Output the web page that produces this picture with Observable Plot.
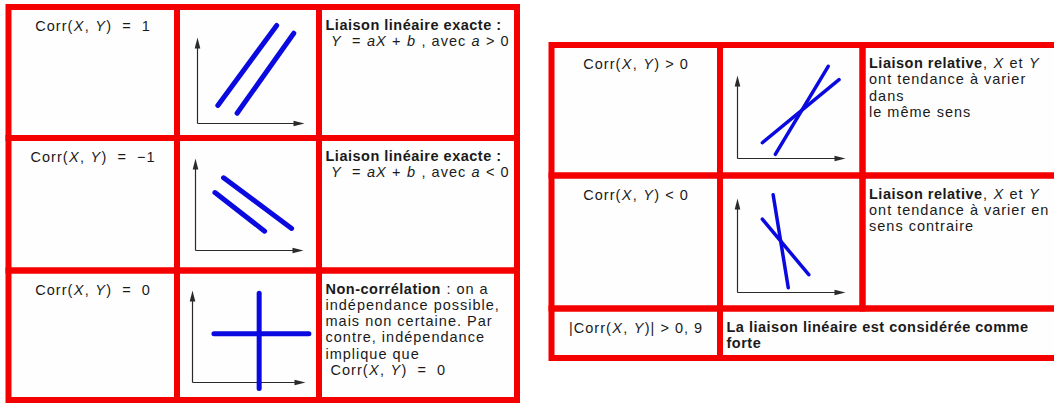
<!DOCTYPE html>
<html>
<head>
<meta charset="utf-8">
<script src="https://cdn.jsdelivr.net/npm/d3@7"></script>
<script src="https://cdn.jsdelivr.net/npm/@observablehq/plot@0.6"></script>
<style>
  html, body { margin: 0; padding: 0; background: #fff; }
  svg text { white-space: pre; letter-spacing: 1px; }
  svg g[font-weight="bold"] text { letter-spacing: 0.5px; }
</style>
</head>
<body>
<div id="chart"></div>
<script>
// ---------------- data (text content) ----------------
const leftLabels = ["Corr(_X_, _Y_)  =  1", "Corr(_X_, _Y_)  =  −1", "Corr(_X_, _Y_)  =  0"];
const leftDescriptions = [
  ["**Liaison linéaire exacte :**", " _Y_  = _aX_ + _b_ , avec _a_ > 0"],
  ["**Liaison linéaire exacte :**", " _Y_  = _aX_ + _b_ , avec _a_ < 0"],
  ["**Non-corrélation** : on a", "indépendance possible,", "mais non certaine. Par", "contre, indépendance", "implique que", " Corr(_X_, _Y_)  =  0"]
];
const rightLabels = ["Corr(_X_, _Y_) > 0", "Corr(_X_, _Y_) < 0", "|Corr(_X_, _Y_)| > 0, 9"];
const rightDescriptions = [
  ["**Liaison relative**, _X_ et _Y_", "ont tendance à varier", "dans", "le même sens"],
  ["**Liaison relative**, _X_ et _Y_", "ont tendance à varier en", "sens contraire"],
  ["**La liaison linéaire est considérée comme**", "**forte**"]
];

// ---------------- data (mini charts) : segments [x1, y1, x2, y2] on a 0–10 axis scale ----------------
const perfectPositive     = [[1.9, 2.1, 7.4, 11.4], [3.7, 1.2, 9.0, 10.5]];
const perfectNegative     = [[2.6, 7.9, 8.9, 2.4], [1.8, 6.3, 6.4, 2.1]];
const noCorrelation       = [[1.9, 5.3, 10.3, 5.3], [5.9, 9.7, 5.9, -0.65]];
const positiveCorrelation = [[3.5, 0.5, 8.4, 11.1], [2.3, 1.9, 9.4, 9.5]];
const negativeCorrelation = [[3.3, 10.4, 4.7, 0.5], [2.3, 7.8, 6.6, 1.9]];

// ---------------- layout ----------------
const W = 1054, H = 403;
const FONT = "'Liberation Sans', Arial, sans-serif", FS = 14.5;
const LS = {regular: 1, italic: 1, bold: 0.5};
const leftCols = [8.5, 177, 319, 517], leftRows = [7, 138, 270.5, 400];
const rightCols = [551.5, 720, 862.5, 1060], rightRows = [45, 175.5, 308.5, 358];
const leftSteps = [16.4, 16.4, 16.3], rightSteps = [16.3, 16.3, 16.4];
const miniFrames = [
  {ox: 197, oy: 123, tx: 304, ty: 37, lw: 5},
  {ox: 195, oy: 250, tx: 303, ty: 158, lw: 5},
  {ox: 192, oy: 382, tx: 305, ty: 290, lw: 5},
  {ox: 737, oy: 158, tx: 845, ty: 75, lw: 3.5},
  {ox: 737, oy: 292, tx: 845, ty: 198, lw: 3.5}
];
const miniData = [perfectPositive, perfectNegative, noCorrelation, positiveCorrelation, negativeCorrelation];

// ---------------- derived tables ----------------
const cells = [];
for (let r = 0; r < 3; r++)
  for (let c = 0; c < 3; c++)
    cells.push({x1: leftCols[c], x2: leftCols[c + 1], y1: leftRows[r], y2: leftRows[r + 1]});
for (let r = 0; r < 3; r++) {
  if (r < 2) {
    for (let c = 0; c < 3; c++)
      cells.push({x1: rightCols[c], x2: rightCols[c + 1], y1: rightRows[r], y2: rightRows[r + 1]});
  } else {
    cells.push({x1: rightCols[0], x2: rightCols[1], y1: rightRows[r], y2: rightRows[r + 1]});
    cells.push({x1: rightCols[1], x2: rightCols[3], y1: rightRows[r], y2: rightRows[r + 1]});
  }
}

// text runs: split "**bold**" and "_italic_" markup into separately placed runs
const ctx = document.createElement("canvas").getContext("2d");
function measure(s, kind) {
  ctx.font = `${kind === "italic" ? "italic " : ""}${kind === "bold" ? "bold " : ""}${FS}px ${FONT}`;
  return ctx.measureText(s).width + LS[kind] * [...s].length;
}
function parseRuns(s) {
  return s.split(/(\*\*[^*]+\*\*|_[^_]+_)/).filter(Boolean).map(p =>
    p.startsWith("**") && p.endsWith("**") ? {s: p.slice(2, -2), kind: "bold"}
    : p.length > 2 && p.startsWith("_") && p.endsWith("_") ? {s: p.slice(1, -1), kind: "italic"}
    : {s: p, kind: "regular"});
}
const runs = [];
function layoutLine(s, x, y, anchor) {
  const rs = parseRuns(s);
  const widths = rs.map(r => measure(r.s, r.kind) + 0.4);
  let cx = anchor === "middle" ? x - d3.sum(widths) / 2 : x;
  rs.forEach((r, i) => {
    const lead = r.s.match(/^\s*/)[0], t = r.s.trim();
    if (t) runs.push({t: r.s.slice(lead.length).replace(/\s+$/, ""), x: cx + (lead ? measure(lead, r.kind) : 0), y, kind: r.kind});
    cx += widths[i];
  });
}
leftLabels.forEach((t, r) => layoutLine(t, (leftCols[0] + leftCols[1]) / 2, leftRows[r] + 23.5, "middle"));
rightLabels.forEach((t, r) => layoutLine(t, (rightCols[0] + rightCols[1]) / 2, rightRows[r] + 23.5, "middle"));
leftDescriptions.forEach((lines, r) => lines.forEach((t, i) =>
  layoutLine(t, leftCols[2] + 6, leftRows[r] + 22.5 + i * leftSteps[r], "start")));
rightDescriptions.forEach((lines, r) => lines.forEach((t, i) =>
  layoutLine(t, (r < 2 ? rightCols[2] : rightCols[1]) + 6, rightRows[r] + 22.5 + i * rightSteps[r], "start")));

const segments = miniData.flatMap((arr, k) => arr.map(([a, b, c, d]) => {
  const f = miniFrames[k], sx = (f.tx - f.ox) / 10, sy = (f.oy - f.ty) / 10;
  return {x1: f.ox + a * sx, y1: f.oy - b * sy, x2: f.ox + c * sx, y2: f.oy - d * sy, w: f.lw};
}));
const axesH = miniFrames.map(f => ({x1: f.ox, y1: f.oy, x2: f.tx - 6, y2: f.oy}));
const axesV = miniFrames.map(f => ({x1: f.ox, y1: f.oy, x2: f.ox, y2: f.ty + 6}));
const tipsR = miniFrames.map(f => ({x: f.tx, y: f.oy}));
const tipsU = miniFrames.map(f => ({x: f.ox, y: f.ty}));

const arrowRight = {draw(c) { c.moveTo(0, 0); c.lineTo(-11, -2.8); c.lineTo(-11, 2.8); c.closePath(); }};
const arrowUp = {draw(c) { c.moveTo(0, 0); c.lineTo(-2.8, 11); c.lineTo(2.8, 11); c.closePath(); }};

const RED = "#f50000", BLUE = "#0a0ae0", AXIS = "#2a2a2a", INK = "#1a1a1a";
const textOpts = {x: "x", y: "y", text: "t", textAnchor: "start", lineAnchor: "bottom", fontSize: FS, fill: INK};

const svg = Plot.plot({
  width: W, height: H, margin: 0,
  x: {domain: [0, W], range: [0, W], axis: null},
  y: {domain: [0, H], range: [0, H], axis: null},
  style: {fontFamily: FONT, background: "#fff"},
  marks: [
    Plot.rect(cells, {x1: "x1", x2: "x2", y1: "y1", y2: "y2", fill: "#fefefe"}),
    Plot.rect(cells, {x1: "x1", x2: "x2", y1: "y1", y2: "y2", fill: "none", stroke: RED, strokeWidth: 6}),
    Plot.link(axesH, {x1: "x1", y1: "y1", x2: "x2", y2: "y2", stroke: AXIS, strokeWidth: 1.2}),
    Plot.link(axesV, {x1: "x1", y1: "y1", x2: "x2", y2: "y2", stroke: AXIS, strokeWidth: 1.2}),
    Plot.dot(tipsR, {x: "x", y: "y", symbol: arrowRight, fill: AXIS, stroke: "none", r: 5}),
    Plot.dot(tipsU, {x: "x", y: "y", symbol: arrowUp, fill: AXIS, stroke: "none", r: 5}),
    Plot.link(segments.filter(d => d.w > 4), {x1: "x1", y1: "y1", x2: "x2", y2: "y2", stroke: BLUE, strokeWidth: 5, strokeLinecap: "round"}),
    Plot.link(segments.filter(d => d.w <= 4), {x1: "x1", y1: "y1", x2: "x2", y2: "y2", stroke: BLUE, strokeWidth: 3.5, strokeLinecap: "round"}),
    Plot.text(runs.filter(d => d.kind === "regular"), textOpts),
    Plot.text(runs.filter(d => d.kind === "italic"), {...textOpts, fontStyle: "italic"}),
    Plot.text(runs.filter(d => d.kind === "bold"), {...textOpts, fontWeight: "bold"})
  ]
});

svg.querySelectorAll("text").forEach(el =>
  el.setAttributeNS("http://www.w3.org/XML/1998/namespace", "xml:space", "preserve"));

document.getElementById("chart").appendChild(svg);
</script>
</body>
</html>
